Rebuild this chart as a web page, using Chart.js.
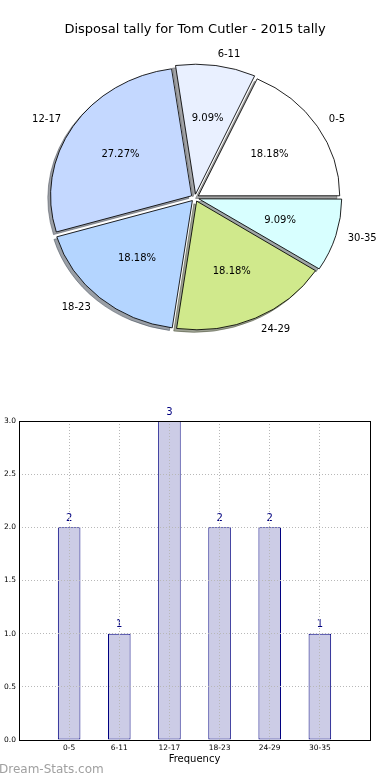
<!DOCTYPE html>
<html>
<head>
<meta charset="utf-8">
<script src="https://cdn.jsdelivr.net/npm/chart.js@4.4.1/dist/chart.umd.min.js"></script>
<style>
  html, body { margin: 0; padding: 0; background: #fff; overflow: hidden; }
  #pieBox { position: relative; width: 390px; height: 358px; }
  #barBox { position: relative; width: 390px; height: 422px; }
</style>
</head>
<body>
<div id="pieBox"><canvas id="pie"></canvas></div>
<div id="barBox"><canvas id="bar"></canvas></div>
<script>
// dati: fasce di disposals e quante partite in ogni fascia
const categories = ["0-5", "6-11", "12-17", "18-23", "24-29", "30-35"];
const tally = [2, 1, 3, 2, 2, 1];
const sliceColours = ["#ffffff", "#e9f0ff", "#c4d8ff", "#b4d5ff", "#d0e98c", "#d8ffff"];
const yTicks = [0, 0.5, 1, 1.5, 2, 2.5, 3];

Chart.defaults.font.family = "'DejaVu Sans', sans-serif";
Chart.defaults.color = "#000";

const SQUASH = 0.91; // la torta originale e' leggermente schiacciata
const EXPLODE = 4;   // distacco delle fette in px (Chart.js divide offset per 4)
const total = tally.reduce((a, b) => a + b, 0);

// Chart.js disegna in senso orario, matplotlib antiorario: invertiamo l'ordine
const order = categories.map((_, i) => i).reverse();
const pieLabels = order.map(i => categories[i]);
const pieValues = order.map(i => tally[i]);
const pieColours = order.map(i => sliceColours[i]);

function shadowOf(hex) {
  const n = parseInt(hex.slice(1), 16);
  const r = ((n >> 16) & 255) * 0.3, g = ((n >> 8) & 255) * 0.3, b = (n & 255) * 0.3;
  return `rgba(${r},${g},${b},0.5)`;
}

// geometria reale di una fetta come la disegna Chart.js
function sliceGeom(arc) {
  const p = arc.getProps(["x", "y", "startAngle", "endAngle", "outerRadius", "circumference"]);
  const mid = (p.startAngle + p.endAngle) / 2;
  const off = (arc.options.offset || 0) / 4;
  const fix = 1 - Math.sin(Math.min(Math.PI, p.circumference || 0));
  return { ...p, mid, off, r: p.outerRadius + off * fix };
}

const pieExtras = {
  id: "pieExtras",
  beforeDatasetsDraw(chart) {
    const ctx = chart.ctx;
    const arcs = chart.getDatasetMeta(0).data;
    const { x, y } = arcs[0];
    ctx.save();
    ctx.translate(x, y);
    ctx.scale(1, SQUASH);
    ctx.translate(-x, -y);
    // ombre sotto le fette
    arcs.forEach((arc, i) => {
      const g = sliceGeom(arc);
      const cx = g.x + Math.cos(g.mid) * g.off - 2.8;
      const cy = g.y + Math.sin(g.mid) * g.off + 2.6 / SQUASH;
      ctx.beginPath();
      ctx.moveTo(cx, cy);
      ctx.arc(cx, cy, g.r, g.startAngle, g.endAngle);
      ctx.closePath();
      ctx.fillStyle = shadowOf(pieColours[i]);
      ctx.strokeStyle = ctx.fillStyle;
      ctx.lineWidth = 1;
      ctx.fill();
      ctx.stroke();
    });
  },
  afterDatasetsDraw(chart) {
    const ctx = chart.ctx;
    ctx.restore();
    const arcs = chart.getDatasetMeta(0).data;
    ctx.save();
    ctx.fillStyle = "#000";
    ctx.font = "10px 'DejaVu Sans'";
    ctx.textBaseline = "middle";
    arcs.forEach((arc, i) => {
      const g = sliceGeom(arc);
      const R = g.outerRadius;
      // percentuale dentro la fetta
      let d = g.off + 0.6 * R;
      ctx.textAlign = "center";
      ctx.fillText((pieValues[i] / total * 100).toFixed(2) + "%",
        g.x + Math.cos(g.mid) * d, g.y + Math.sin(g.mid) * d * SQUASH);
      // etichetta fuori
      d = g.off + 1.1 * R;
      const lx = g.x + Math.cos(g.mid) * d;
      ctx.textAlign = lx > g.x ? "left" : "right";
      ctx.fillText(pieLabels[i], lx, g.y + Math.sin(g.mid) * d * SQUASH);
    });
    ctx.restore();
  }
};

new Chart(document.getElementById("pie"), {
  type: "pie",
  data: {
    labels: pieLabels,
    datasets: [{
      data: pieValues,
      backgroundColor: pieColours,
      borderColor: "#000",
      borderWidth: 0.9,
      borderJoinStyle: "miter",
      offset: EXPLODE * 4,
      clip: false
    }]
  },
  options: {
    animation: false,
    responsive: true,
    maintainAspectRatio: false,
    rotation: 90,
    radius: 141,
    events: [],
    plugins: {
      legend: { display: false },
      tooltip: { enabled: false },
      title: {
        display: true,
        text: "Disposal tally for Tom Cutler - 2015 tally",
        font: { size: 13, weight: "normal" },
        color: "#000",
        padding: { top: 22, bottom: 0 }
      }
    }
  },
  plugins: [pieExtras]
});

// --- istogramma ---
const barExtras = {
  id: "barExtras",
  afterDatasetsDraw(chart) {
    const ctx = chart.ctx;
    ctx.save();
    ctx.fillStyle = "#000080";
    ctx.font = "10px 'DejaVu Sans'";
    ctx.textAlign = "center";
    ctx.textBaseline = "middle";
    chart.getDatasetMeta(0).data.forEach((bar, i) => {
      ctx.fillText(String(tally[i]), bar.x, bar.y - 9);
    });
    ctx.restore();
  },
  afterDraw(chart) {
    const ctx = chart.ctx;
    const a = chart.chartArea;
    const px = v => Math.round(v - 0.5) + 0.5;
    ctx.save();
    // cornice completa del grafico
    ctx.strokeStyle = "#000";
    ctx.lineWidth = 1;
    ctx.strokeRect(px(a.left), px(a.top), px(a.right) - px(a.left), px(a.bottom) - px(a.top));
    // watermark
    ctx.fillStyle = "#a0a0a0";
    ctx.font = "12px 'DejaVu Sans'";
    ctx.textAlign = "left";
    ctx.textBaseline = "middle";
    ctx.fillText("Dream-Stats.com", -1, 411.5);
    ctx.restore();
  }
};

const gridLook = { color: "#b8b8b8", lineWidth: 1, drawTicks: false, z: 1 };
const borderLook = { display: false, dash: [1, 2] };

new Chart(document.getElementById("bar"), {
  type: "bar",
  data: {
    datasets: [{
      data: categories.map((c, i) => ({ x: i, y: tally[i] })),
      backgroundColor: "#ccccE6",
      borderColor: "#000080",
      borderWidth: 1,
      borderSkipped: false,
      categoryPercentage: 1,
      barPercentage: 0.45
    }]
  },
  options: {
    animation: false,
    responsive: true,
    maintainAspectRatio: false,
    events: [],
    layout: { padding: { top: 63, right: 20, bottom: 15, left: 0 } },
    plugins: { legend: { display: false }, tooltip: { enabled: false } },
    scales: {
      x: {
        type: "linear",
        min: -1,
        max: categories.length,
        offset: false,
        grid: { ...gridLook, offset: false },
        border: borderLook,
        ticks: {
          stepSize: 1,
          padding: 4,
          autoSkip: false,
          maxRotation: 0,
          font: { size: 7.5 },
          color: "#000",
          callback: v => categories[v] ?? ""
        },
        title: { display: true, text: "Frequency", font: { size: 10 }, padding: 0, color: "#000" },
        afterFit: s => { s.height = 25; }
      },
      y: {
        min: yTicks[0],
        max: yTicks[yTicks.length - 1],
        grid: gridLook,
        border: borderLook,
        ticks: {
          padding: 3,
          font: { size: 7.5 },
          color: "#000",
          callback: v => Number(v).toFixed(1)
        },
        afterBuildTicks: s => { s.ticks = yTicks.map(v => ({ value: v })); },
        afterFit: s => { s.width = 19; }
      }
    }
  },
  plugins: [barExtras]
});
</script>
</body>
</html>
